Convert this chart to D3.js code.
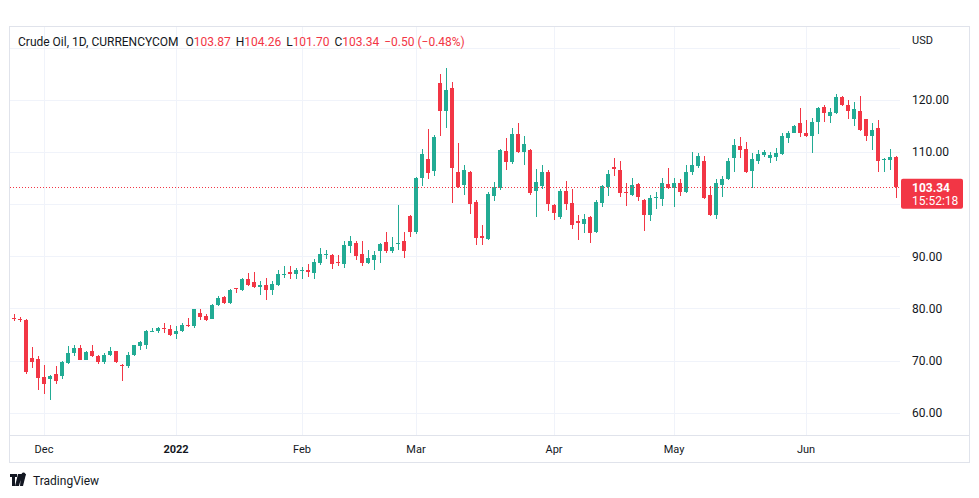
<!DOCTYPE html>
<html><head><meta charset="utf-8">
<script src="https://cdn.jsdelivr.net/npm/d3@7"></script>
<style>
body{margin:0;background:#fff}
svg{display:block}
text{font-family:Roboto,"Noto Sans",sans-serif}
</style>
</head><body>
<svg id="c" width="979" height="498"></svg>
<script>
// ---------- data ----------
const symbolName = "Crude Oil, 1D, CURRENCYCOM";
const ohlcKeys = ["O","H","L","C"];
const ohlcValues = ["103.87","104.26","101.70","103.34"];
const changeLabel = "\u22120.50 (\u22120.48%)";
const lastPrice = 103.34;
const lastPriceLabel = "103.34";
const countdown = "15:52:18";
const currency = "USD";
const startDate = "2021-11-23";
const endDate = "2022-06-22";
const holidays = ["2021-12-24","2022-02-21","2022-04-15"];
const gridPrices = [60,70,80,90,100,110,120,130];
const labelPrices = [60,70,80,90,110,120];
const monthTickDates = ["2021-12-01","2022-01-03","2022-02-01","2022-03-01","2022-04-01","2022-05-02","2022-06-01"];
const monthTickLabels = ["Dec","2022","Feb","Mar","Apr","May","Jun"];
const yearTicks = ["2022"];

const opens = [75.9,78.1,78.0,77.8,70.5,70.3,66.9,66.5,67.5,67.0,69.5,71.5,72.4,70.2,71.9,70.9,69.8,71.1,71.8,69.2,
68.9,71.0,72.7,72.9,75.5,75.6,76.2,76.1,75.1,75.6,76.9,76.6,79.1,78.5,78.0,80.7,82.2,81.0,83.9,83.5,
85.6,85.0,84.2,84.5,83.6,84.5,86.6,86.9,86.6,87.2,87.3,86.8,88.8,90.2,90.3,89.0,88.5,91.9,92.6,90.4,
88.7,89.3,91.05,92.8,91.05,92.3,93.0,97.8,94.75,105.0,108.7,106.4,123.3,117.9,122.2,106.2,103.6,106.25,100.5,93.9,
93.35,101.6,103.1,110.2,108.05,113.5,110.0,110.3,102.5,103.5,106.25,99.87,97.5,102.6,100.2,96.86,96.2,97.6,94.75,100.3,
103.3,107.1,106.6,102.3,101.8,103.8,100.8,97.95,101.2,100.96,103.9,103.1,104.0,102.4,106.25,107.4,108.3,101.8,97.95,103.7,
104.8,108.8,111.2,110.5,106.4,108.2,109.4,108.9,109.1,109.6,112.6,113.7,115.6,113.7,113.1,115.7,118.7,116.9,117.5,120.6,
119.0,116.3,117.9,116.3,113.1,114.6,108.4,108.5,109.1];
const highs = [78.2,78.9,78.3,77.9,72.6,70.9,69.2,67.3,69.0,69.9,72.8,72.9,73.0,71.9,72.9,71.1,71.5,72.6,71.9,69.4,
71.6,73.0,73.7,75.8,76.2,76.5,77.2,76.9,76.6,77.3,78.2,79.9,79.9,78.9,80.8,82.4,82.4,83.7,84.0,85.8,
86.8,86.9,85.2,85.8,85.2,87.3,88.05,88.2,87.75,87.9,88.6,89.5,91.6,91.25,90.4,90.3,93.0,93.9,93.0,93.0,
91.25,91.0,92.5,94.6,93.7,99.9,94.75,97.95,105.2,110.5,114.4,113.3,124.9,126.2,123.5,111.8,107.5,106.4,100.8,96.0,
102.4,104.2,110.5,112.6,114.6,115.5,113.1,110.6,106.8,107.5,106.5,100.05,102.9,104.5,102.9,97.95,98.1,97.8,100.8,103.6,
106.6,108.8,108.2,104.0,105.1,104.0,101.0,101.8,102.4,105.0,106.9,105.0,104.8,107.5,110.1,109.8,109.25,103.4,104.8,105.4,
108.8,112.45,112.95,112.0,109.8,110.3,110.4,110.1,110.7,113.7,114.1,115.1,118.4,116.15,116.5,118.7,119.0,118.4,121.1,120.75,
120.0,119.65,120.75,116.4,115.5,116.15,108.8,110.5,109.2];
const lows = [75.7,77.6,77.4,67.4,68.6,64.4,63.5,62.4,65.5,66.5,69.3,70.9,70.1,70.1,70.6,69.3,69.3,70.9,69.6,66.0,
68.6,70.8,72.1,72.3,75.4,75.2,75.3,74.8,74.1,75.4,76.4,76.3,77.8,77.5,77.9,80.5,80.9,80.9,82.95,83.4,
84.3,84.0,82.6,81.7,82.6,84.35,85.8,85.6,85.6,85.6,86.0,85.6,88.4,89.5,87.5,88.05,87.85,90.6,89.3,88.05,
88.55,87.4,88.8,90.7,90.7,91.25,89.65,93.7,94.3,103.5,104.8,105.4,113.1,114.7,100.3,103.1,101.8,98.1,92.2,92.2,
93.2,100.7,102.8,106.6,107.7,109.9,107.5,101.8,97.5,102.9,98.6,97.0,97.1,98.9,95.2,93.2,94.4,92.5,94.4,99.4,
101.6,105.4,101.3,99.7,101.5,100.7,94.9,96.7,99.1,99.7,102.9,99.5,101.5,102.2,105.6,106.9,100.9,97.75,97.1,101.3,
104.7,106.25,108.8,105.9,103.1,107.7,109.1,107.85,108.35,109.4,111.7,113.6,112.8,112.9,109.9,113.5,115.8,115.6,117.3,118.9,
116.3,115.0,114.1,112.2,110.3,106.25,106.25,106.6,101.15];
const closes = [78.1,77.95,77.8,67.9,69.7,66.7,65.5,67.1,66.0,69.8,71.5,72.5,70.2,71.6,70.8,69.8,71.1,71.8,69.8,69.1,
71.0,72.9,73.5,75.7,75.6,76.2,76.0,75.0,75.7,76.8,76.7,79.8,78.3,77.7,80.7,82.05,81.0,83.6,83.7,85.7,
84.5,84.2,84.4,83.6,84.7,86.65,86.7,86.7,87.3,87.4,87.0,89.0,90.4,90.4,88.5,88.8,92.1,93.0,90.0,88.7,
89.75,90.3,92.4,91.05,91.8,92.5,91.05,94.75,105.0,109.6,106.05,112.95,117.9,121.9,107.0,103.3,106.6,100.05,93.6,93.6,
101.97,103.2,110.4,108.05,113.5,110.1,111.55,102.1,104.3,106.25,100.05,98.4,102.6,100.05,96.0,96.36,97.2,94.4,100.5,103.5,
105.75,106.7,102.1,102.1,103.7,101.3,97.95,101.15,101.4,104.0,103.1,104.0,102.4,106.25,107.5,109.25,101.15,97.95,104.0,104.8,
108.2,111.4,110.3,106.25,108.7,109.6,109.96,109.4,109.9,113.1,113.7,115.0,113.7,113.1,115.7,118.4,117.5,117.7,120.5,119.0,
117.9,118.3,114.2,113.1,114.2,108.2,108.7,109.1,103.34];

// ---------- trading days (categories) ----------
const days = [];
for (let d = new Date(startDate + "T00:00:00Z"); d <= new Date(endDate + "T00:00:00Z"); d.setUTCDate(d.getUTCDate() + 1)) {
  const w = d.getUTCDay(), s = d.toISOString().slice(0, 10);
  if (w !== 0 && w !== 6 && !holidays.includes(s)) days.push(s);
}
const candles = days.map((d, i) => ({date: d, o: opens[i], h: highs[i], l: lows[i], c: closes[i]}));

// ---------- layout ----------
const UP = "#22ab94", DOWN = "#f23645", GRID = "#f0f3fa", BORDER = "#e0e3eb", TXT = "#131722";
const plotL = 10, plotR = 900, plotT = 27, plotB = 435, axisB = 462, outerR = 969;

const svg = d3.select("#c");
svg.append("rect").attr("width", 979).attr("height", 498).attr("fill", "#fff");

const x = d3.scaleBand().domain(days).range([5, 5 + 6 * days.length]).paddingInner(1 / 3).paddingOuter(1 / 6);
const y = d3.scaleLinear().domain([60, 120]).range([412.7, 99.9]);
const cx = d => x(d) + x.bandwidth() / 2;

// grid
const g = svg.append("g").attr("shape-rendering", "crispEdges");
g.selectAll(".hg").data(gridPrices).join("line")
  .attr("x1", plotL).attr("x2", plotR)
  .attr("y1", d => Math.round(y(d)) + 0.5).attr("y2", d => Math.round(y(d)) + 0.5)
  .attr("stroke", GRID);
g.selectAll(".vg").data(monthTickDates).join("line")
  .attr("x1", d => Math.round(cx(d)) + 0.5).attr("x2", d => Math.round(cx(d)) + 0.5)
  .attr("y1", plotT).attr("y2", plotB)
  .attr("stroke", GRID);

// borders
const b = svg.append("g").attr("shape-rendering", "crispEdges").attr("fill", "none").attr("stroke", BORDER);
b.append("rect").attr("x", plotL - 0.5).attr("y", plotT - 0.5).attr("width", outerR - plotL + 1).attr("height", axisB - plotT + 1);
b.append("line").attr("x1", plotL).attr("x2", outerR).attr("y1", plotB + 0.5).attr("y2", plotB + 0.5);

// candles
svg.append("defs").append("clipPath").attr("id", "clip")
  .append("rect").attr("x", plotL).attr("y", plotT).attr("width", plotR - plotL).attr("height", plotB - plotT);
const cg = svg.append("g").attr("clip-path", "url(#clip)").attr("shape-rendering", "crispEdges");
const cs = cg.selectAll("g.candle").data(candles).join("g").attr("class", "candle");
cs.append("line")
  .attr("x1", d => Math.floor(cx(d.date)) + 0.5).attr("x2", d => Math.floor(cx(d.date)) + 0.5)
  .attr("y1", d => y(d.h)).attr("y2", d => y(d.l))
  .attr("stroke", d => d.c >= d.o ? UP : DOWN);
cs.append("rect")
  .attr("x", d => x(d.date)).attr("width", x.bandwidth())
  .attr("y", d => y(Math.max(d.o, d.c)))
  .attr("height", d => Math.max(1, Math.abs(y(d.o) - y(d.c))))
  .attr("fill", d => d.c >= d.o ? UP : DOWN);

// last price line
svg.append("line")
  .attr("x1", plotL).attr("x2", plotR)
  .attr("y1", Math.round(y(lastPrice)) + 0.5).attr("y2", Math.round(y(lastPrice)) + 0.5)
  .attr("stroke", DOWN).attr("stroke-dasharray", "1,2");

// price axis labels
svg.append("g").selectAll("text").data(labelPrices).join("text")
  .attr("x", 912).attr("y", d => y(d)).attr("dy", "0.35em")
  .attr("font-size", 12).attr("fill", TXT)
  .text(d => d3.format(".2f")(d));
svg.append("text").attr("x", 912).attr("y", 40).attr("dy", "0.35em")
  .attr("font-size", 11).attr("fill", TXT).text(currency);

// last price tag
const ly = y(lastPrice);
svg.append("rect").attr("x", 901).attr("y", ly - 8).attr("width", 62).attr("height", 30)
  .attr("rx", 2).attr("fill", DOWN);
svg.append("text").attr("x", 912).attr("y", ly + 1).attr("dy", "0.35em")
  .attr("font-size", 12).attr("font-weight", "bold").attr("fill", "#fff").text(lastPriceLabel);
svg.append("text").attr("x", 912).attr("y", ly + 14).attr("dy", "0.35em")
  .attr("font-size", 12).attr("fill", "#fff").text(countdown);

// time axis labels
svg.append("g").selectAll("text").data(monthTickDates).join("text")
  .attr("x", d => cx(d)).attr("y", 449).attr("dy", "0.35em")
  .attr("text-anchor", "middle").attr("font-size", 11).attr("fill", TXT)
  .attr("font-weight", (d, i) => yearTicks.includes(monthTickLabels[i]) ? "bold" : "normal")
  .text((d, i) => monthTickLabels[i]);

// header
const h = svg.append("text").attr("x", 18).attr("y", 42).attr("dy", "0.35em").attr("font-size", 12).attr("fill", TXT);
h.append("tspan").text(symbolName);
ohlcKeys.forEach((k, i) => {
  h.append("tspan").attr("dx", i === 0 ? 7 : 5).text(k);
  h.append("tspan").attr("fill", DOWN).text(ohlcValues[i]);
});
h.append("tspan").attr("dx", 5).attr("fill", DOWN).text(changeLabel);

// TradingView logo
const logo = svg.append("g").attr("transform", "translate(10,474)");
logo.append("path").attr("d", "M0 0H7V3H5V12H2V3H0Z M8 0H12L9 12H5Z M11 0H16L13 12H10Z").attr("fill", TXT);
logo.append("path").attr("d", "M13.5 2.5a2 2 0 1 1 0.01 0").attr("fill", TXT);
svg.append("text").attr("x", 33).attr("y", 481).attr("dy", "0.35em").attr("font-size", 12).attr("fill", TXT).text("TradingView");
</script>
</body></html>
